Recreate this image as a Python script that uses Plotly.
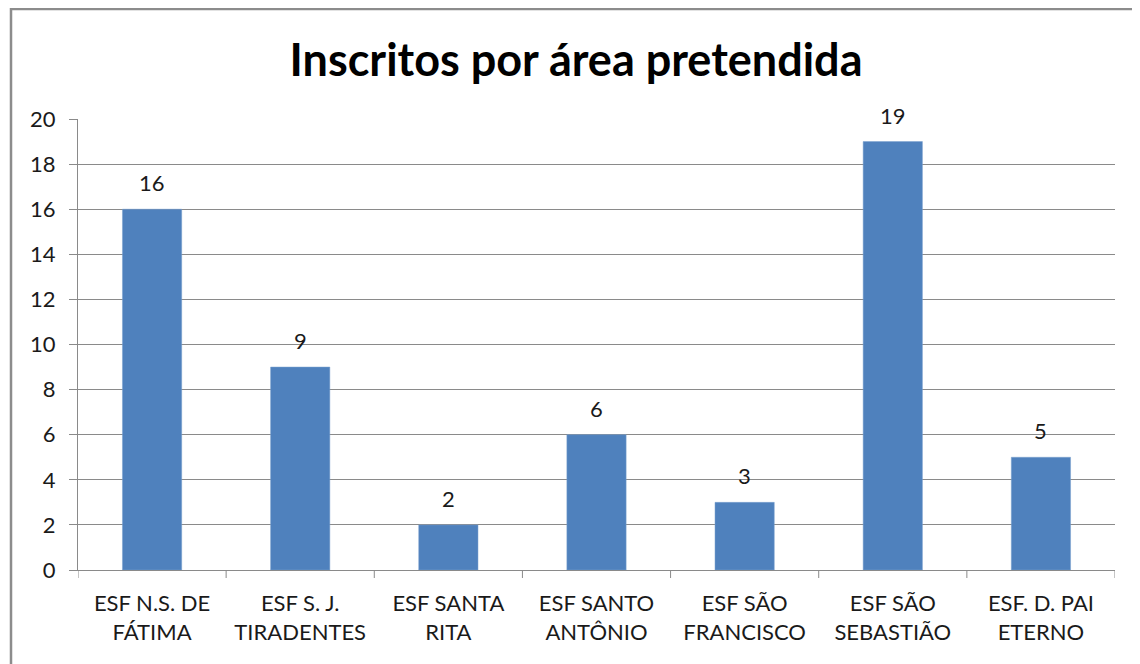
import plotly.graph_objects as go

categories = ["ESF N.S. DE<br>FÁTIMA", "ESF S. J.<br>TIRADENTES", "ESF SANTA<br>RITA",
              "ESF SANTO<br>ANTÔNIO", "ESF SÃO<br>FRANCISCO", "ESF SÃO<br>SEBASTIÃO",
              "ESF. D. PAI<br>ETERNO"]
values = [16, 9, 2, 6, 3, 19, 5]
y_ticks = list(range(0, 21, 2))

FONT = "Lato"
TXT = "#1a1a1a"
GRID = "#8a8a8a"

W, H = 1132, 656
L, T, R, B = 70, 111, 25, 94
PW = W - L - R
PH = H - T - B

fig = go.Figure()
fig.add_trace(go.Bar(
    x=list(range(len(categories))), y=values,
    marker=dict(color="#4F81BD", line=dict(color="#7aa0cf", width=0.5)),
    hoverinfo="skip",
))

for i, v in enumerate(values):
    fig.add_annotation(x=i, y=v, text=str(v), showarrow=False, yanchor="bottom",
                       yshift=11, font=dict(family=FONT, size=22, color=TXT))

fig.update_layout(
    width=W, height=H,
    margin=dict(l=L, r=R, t=T, b=B),
    paper_bgcolor="white", plot_bgcolor="white",
    bargap=0.6,
    showlegend=False,
    title=dict(text="<b>Inscritos por área pretendida</b>", x=(576 - 8) / W, xanchor="center",
               y=1 - 52 / H, yanchor="middle",
               font=dict(family=FONT, size=45, color="#000000")),
    xaxis=dict(
        range=[-0.5, len(categories) - 0.5],
        tickmode="array", tickvals=list(range(len(categories))), ticktext=categories,
        showgrid=False, showline=True, linecolor=GRID, linewidth=1,
        ticks="", ticklabelstandoff=14,
        tickfont=dict(family=FONT, size=22, color=TXT),
        zeroline=False, fixedrange=True,
    ),
    yaxis=dict(
        range=[0, 20], tickmode="array", tickvals=y_ticks,
        showgrid=True, gridcolor=GRID, gridwidth=1,
        showline=True, linecolor=GRID, linewidth=1,
        ticks="outside", ticklen=8, tickcolor=GRID,
        ticklabelstandoff=9,
        tickfont=dict(family=FONT, size=22, color=TXT),
        zeroline=False, fixedrange=True,
    ),
)

# category separator ticks on the x axis (at category boundaries)
for b in [k - 0.5 for k in range(len(categories) + 1)]:
    fig.add_shape(type="line", xref="x", yref="paper", x0=b, x1=b, y0=0, y1=-8 / PH,
                  line=dict(color=GRID, width=1))

# chart border frame
fig.add_shape(type="rect", xref="paper", yref="paper",
              x0=(3 - L) / PW, x1=1.2, y0=-0.5, y1=(PH + T - 1) / PH,
              line=dict(color="#8c8c8c", width=2.5), fillcolor="rgba(0,0,0,0)", layer="below")

fig.write_html("out.html")
